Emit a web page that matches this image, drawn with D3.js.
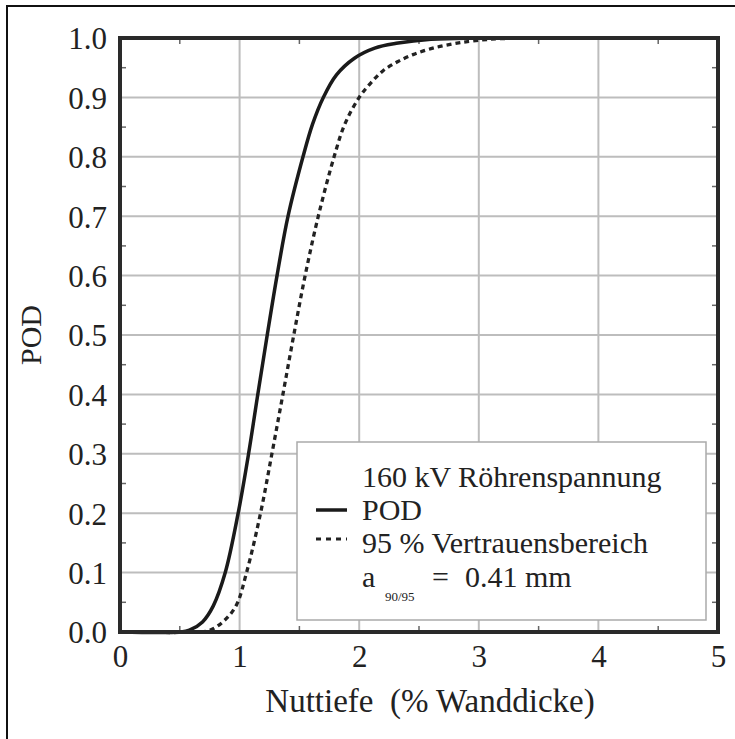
<!DOCTYPE html>
<html><head><meta charset="utf-8">
<script src="https://cdn.jsdelivr.net/npm/d3@7"></script>
<style>body{margin:0;background:#fff}svg{display:block}</style>
</head><body><svg id="c" width="735" height="739" font-family="Liberation Serif"></svg>
<script>
// Data
const podX = [0, 0.5, 0.58, 0.69, 0.78, 0.88, 0.988, 1.075, 1.152, 1.231, 1.313, 1.405, 1.53, 1.61, 1.70, 1.81, 1.96, 2.13, 2.31, 2.6, 3.0, 5.0];
const podY = [0, 0, 0.003, 0.017, 0.044, 0.1, 0.2, 0.3, 0.4, 0.5, 0.6, 0.7, 0.8, 0.855, 0.9, 0.938, 0.966, 0.983, 0.991, 0.998, 1.0, 1.0];
const ciX = [0, 0.65, 0.75, 0.86, 0.97, 1.058, 1.175, 1.27, 1.362, 1.453, 1.548, 1.658, 1.79, 1.88, 2.0, 2.1, 2.2, 2.32, 2.45, 2.6, 2.78, 2.95, 3.2, 5.0];
const ciY = [0, 0, 0.003, 0.017, 0.044, 0.1, 0.2, 0.3, 0.4, 0.5, 0.6, 0.7, 0.8, 0.855, 0.9, 0.925, 0.945, 0.96, 0.972, 0.982, 0.99, 0.995, 0.999, 1.0];
const xTicks = [0, 1, 2, 3, 4, 5];
const yTicks = [0, 0.1, 0.2, 0.3, 0.4, 0.5, 0.6, 0.7, 0.8, 0.9, 1.0];
const xMinor = [0.5, 1.5, 2.5, 3.5, 4.5];
const yMinor = [0.05, 0.15, 0.25, 0.35, 0.45, 0.55, 0.65, 0.75, 0.85, 0.95];
const legendTitle = "160 kV Röhrenspannung";
const legendLabels = ["POD", "95 % Vertrauensbereich"];
const xTitle = "Nuttiefe  (% Wanddicke)";
const yTitle = "POD";

const FONT = "Liberation Serif";
const INK = "#222";
const svg = d3.select("#c");
const L = 120, R = 718, T = 38, B = 632;
const x = d3.scaleLinear().domain([0, 5]).range([L, R]);
const y = d3.scaleLinear().domain([0, 1]).range([B, T]);

function txt(sel, size) {
  return sel.attr("font-family", FONT).attr("font-size", size).attr("fill", INK);
}

svg.append("rect").attr("x", 7).attr("y", 6).attr("width", 760).attr("height", 760)
  .attr("fill", "none").attr("stroke", "#111").attr("stroke-width", 2);

const g = svg.append("g");
g.selectAll(".gx").data(xTicks.slice(1, -1)).join("line")
  .attr("x1", d => x(d)).attr("x2", d => x(d)).attr("y1", T).attr("y2", B)
  .attr("stroke", "#bdbdbd").attr("stroke-width", 2);
g.selectAll(".gy").data(yTicks.slice(1, -1)).join("line")
  .attr("y1", d => y(d)).attr("y2", d => y(d)).attr("x1", L).attr("x2", R)
  .attr("stroke", "#bdbdbd").attr("stroke-width", 2);

const tk = 6;
xMinor.forEach(v => {
  g.append("line").attr("x1", x(v)).attr("x2", x(v)).attr("y1", B).attr("y2", B - tk).attr("stroke", "#666").attr("stroke-width", 1.5);
  g.append("line").attr("x1", x(v)).attr("x2", x(v)).attr("y1", T).attr("y2", T + tk).attr("stroke", "#666").attr("stroke-width", 1.5);
});
yMinor.forEach(v => {
  g.append("line").attr("y1", y(v)).attr("y2", y(v)).attr("x1", L).attr("x2", L + tk).attr("stroke", "#666").attr("stroke-width", 1.5);
  g.append("line").attr("y1", y(v)).attr("y2", y(v)).attr("x1", R).attr("x2", R - tk).attr("stroke", "#666").attr("stroke-width", 1.5);
});

const lg = svg.append("g");
lg.append("rect").attr("x", 297).attr("y", 442).attr("width", 409).attr("height", 178)
  .attr("fill", "#fff").attr("stroke", "#aaa").attr("stroke-width", 1.5);

const line = d3.line().x(d => x(d[0])).y(d => y(d[1])).curve(d3.curveCatmullRom.alpha(0.5));
const pod = podX.map((v, i) => [v, podY[i]]);
const ci = ciX.map((v, i) => [v, ciY[i]]);
svg.append("path").datum(ci).attr("d", line).attr("fill", "none")
  .attr("stroke", "#222").attr("stroke-width", 3.3).attr("stroke-dasharray", "5,4");
svg.append("path").datum(pod).attr("d", line).attr("fill", "none")
  .attr("stroke", "#1a1a1a").attr("stroke-width", 3.5);

svg.append("rect").attr("x", L).attr("y", T).attr("width", R - L).attr("height", B - T)
  .attr("fill", "none").attr("stroke", "#2a2a2a").attr("stroke-width", 4);

const xAxis = d3.axisBottom(x).tickValues(xTicks).tickFormat(d3.format("d")).tickSize(0).tickPadding(0);
const xa = svg.append("g").attr("transform", `translate(0,${B})`).call(xAxis).attr("font-family", FONT);
xa.select(".domain").remove();
txt(xa.selectAll("text").attr("y", 35).attr("dy", 0), 31);

const yAxis = d3.axisLeft(y).tickValues(yTicks).tickFormat(d3.format(".1f")).tickSize(0).tickPadding(0);
const ya = svg.append("g").attr("transform", `translate(107,0)`).call(yAxis).attr("font-family", FONT);
ya.select(".domain").remove();
txt(ya.selectAll("text").attr("x", 0).attr("dy", "0.35em"), 31);

txt(svg.append("text").attr("x", (L + R) / 2 + 11).attr("y", 712).attr("text-anchor", "middle")
  .attr("xml:space", "preserve").style("white-space", "pre").text(xTitle), 33);
txt(svg.append("text").attr("transform", `translate(41,${(T + B) / 2}) rotate(-90)`).attr("text-anchor", "middle")
  .text(yTitle), 30);

const fs = 30;
txt(lg.append("text").attr("x", 362).attr("y", 487).text(legendTitle), fs);
lg.append("line").attr("x1", 316).attr("x2", 347).attr("y1", 510).attr("y2", 510).attr("stroke", "#1a1a1a").attr("stroke-width", 3.5);
txt(lg.append("text").attr("x", 362).attr("y", 520).text(legendLabels[0]), fs);
lg.append("line").attr("x1", 316).attr("x2", 347).attr("y1", 539).attr("y2", 539).attr("stroke", "#222").attr("stroke-width", 3).attr("stroke-dasharray", "5,5");
txt(lg.append("text").attr("x", 362).attr("y", 553).text(legendLabels[1]), fs);
const aT = txt(lg.append("text").attr("x", 362).attr("y", 587), fs);
aT.append("tspan").text("a");
aT.append("tspan").attr("x", 385).attr("y", 601).attr("font-size", 13).text("90/95");
aT.append("tspan").attr("x", 432).attr("y", 587).text("=");
aT.append("tspan").attr("x", 465).attr("y", 587).text("0.41 mm");
</script></body></html>
